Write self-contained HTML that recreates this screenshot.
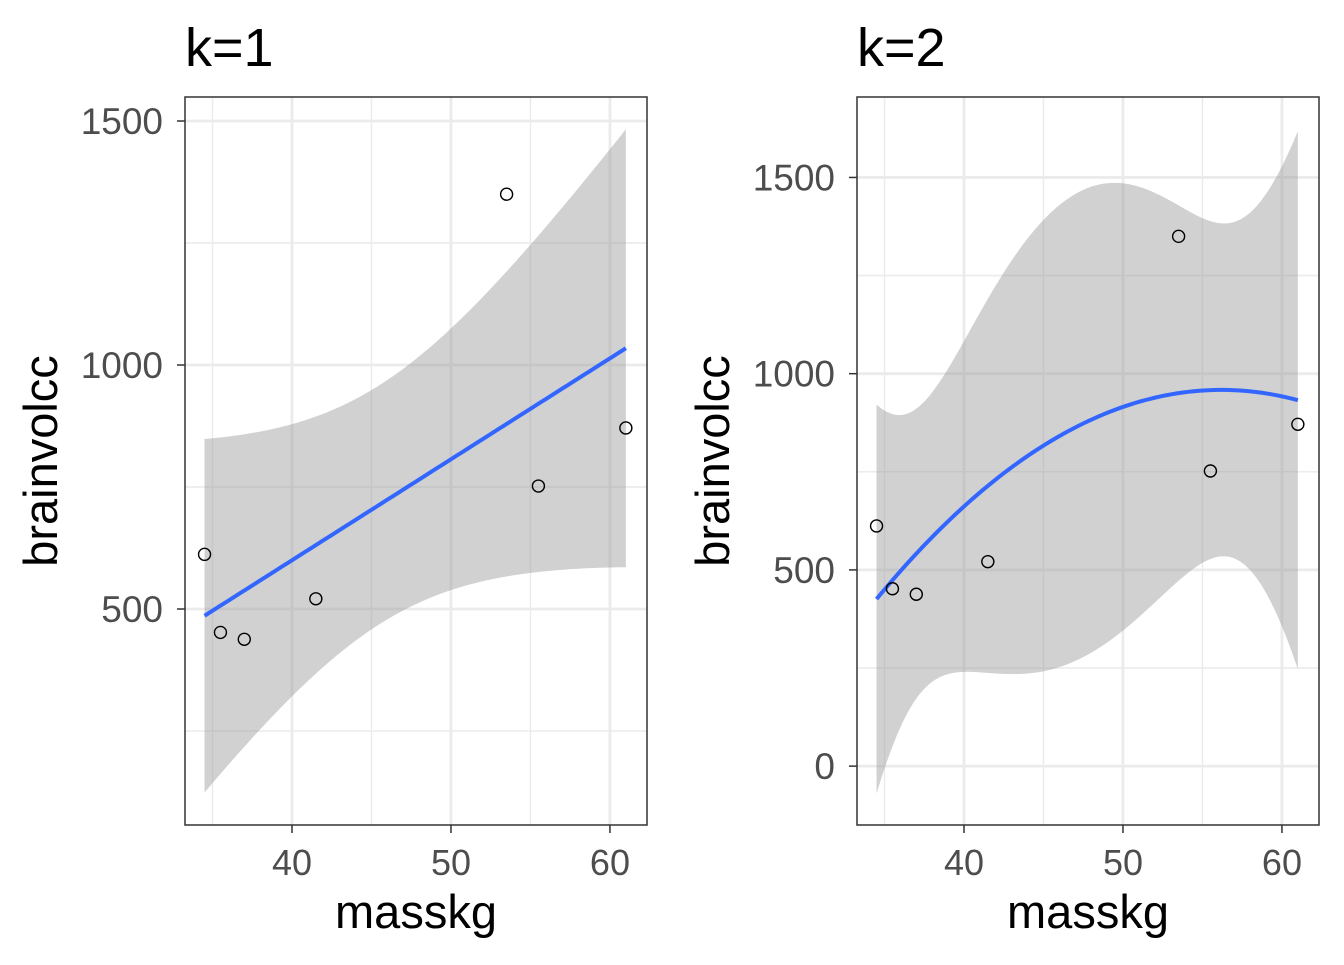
<!DOCTYPE html>
<html><head><meta charset="utf-8"><style>
body{margin:0;background:#fff;font-family:"Liberation Sans",Arial,sans-serif}
</style></head><body>
<svg id="c" width="1344" height="960" xmlns="http://www.w3.org/2000/svg"></svg>
<script>
const masskg=[37.0,35.5,34.5,41.5,55.5,61.0,53.5];
const brainvolcc=[438,452,612,521,752,871,1350];
const xTicks=[40,50,60];
const yTicksLeft=[500,1000,1500];
const yTicksRight=[0,500,1000,1500];
const panels=[
 {title:"k=1",deg:1,px0:185,px1:647,xd:[33.27,62.33],yd:[57.4,1549.2],yt:yTicksLeft,tcrit:2.5706},
 {title:"k=2",deg:2,px0:857,px1:1319,xd:[33.27,62.33],yd:[-150,1705],yt:yTicksRight,tcrit:2.7764}
];
const NS="http://www.w3.org/2000/svg";
const svg=document.getElementById('c');
function el(tag,attrs,parent){const e=document.createElementNS(NS,tag);for(const k in attrs)e.setAttribute(k,attrs[k]);(parent||svg).appendChild(e);return e;}
function inv(M){const n=M.length;const A=M.map((r,i)=>[...r,...r.map((_,j)=>i===j?1:0)]);
 for(let i=0;i<n;i++){let p=i;for(let r=i+1;r<n;r++)if(Math.abs(A[r][i])>Math.abs(A[p][i]))p=r;[A[i],A[p]]=[A[p],A[i]];
  const d=A[i][i];for(let j=0;j<2*n;j++)A[i][j]/=d;
  for(let r=0;r<n;r++)if(r!==i){const f=A[r][i];for(let j=0;j<2*n;j++)A[r][j]-=f*A[i][j];}}
 return A.map(r=>r.slice(n));}
function fit(deg){const mx=masskg.reduce((a,b)=>a+b)/masskg.length;
 const X=masskg.map(x=>{const r=[];for(let d=0;d<=deg;d++)r.push(Math.pow(x-mx,d));return r;});
 const p=deg+1;const XtX=[];for(let i=0;i<p;i++){XtX.push([]);for(let j=0;j<p;j++){let s=0;X.forEach(r=>s+=r[i]*r[j]);XtX[i].push(s);}}
 const XtXi=inv(XtX);const Xty=[];for(let i=0;i<p;i++){let s=0;X.forEach((r,k)=>s+=r[i]*brainvolcc[k]);Xty.push(s);}
 const b=XtXi.map(r=>r.reduce((s,v,j)=>s+v*Xty[j],0));
 let rss=0;X.forEach((r,k)=>{const yh=r.reduce((s,v,j)=>s+v*b[j],0);rss+=(brainvolcc[k]-yh)**2;});
 const s2=rss/(masskg.length-p);
 return x=>{const r=[];for(let d=0;d<=deg;d++)r.push(Math.pow(x-mx,d));
  const y=r.reduce((s,v,j)=>s+v*b[j],0);let v=0;for(let i=0;i<p;i++)for(let j=0;j<p;j++)v+=r[i]*XtXi[i][j]*r[j];
  return [y,Math.sqrt(v*s2)];};}
panels.forEach((P,pi)=>{
 const g=el('g',{});
 
 
 const top=97,bot=825;
 const sx=v=>P.px0+(v-P.xd[0])/(P.xd[1]-P.xd[0])*(P.px1-P.px0);
 const sy=v=>bot-(v-P.yd[0])/(P.yd[1]-P.yd[0])*(bot-top);
 el('rect',{x:P.px0,y:top,width:P.px1-P.px0,height:bot-top,fill:'#fff'},g);
 [35,45,55].forEach(v=>el('line',{x1:sx(v),x2:sx(v),y1:top,y2:bot,stroke:'#ebebeb','stroke-width':1.4},g));
 for(let i=0;i<P.yt.length;i++){[P.yt[i]-250,P.yt[i]+250].forEach(v=>{if(sy(v)>top&&sy(v)<bot)el('line',{x1:P.px0,x2:P.px1,y1:sy(v),y2:sy(v),stroke:'#ebebeb','stroke-width':1.4},g);});}
 xTicks.forEach(v=>el('line',{x1:sx(v),x2:sx(v),y1:top,y2:bot,stroke:'#ebebeb','stroke-width':2.8},g));
 P.yt.forEach(v=>el('line',{x1:P.px0,x2:P.px1,y1:sy(v),y2:sy(v),stroke:'#ebebeb','stroke-width':2.8},g));
 const f=fit(P.deg);const xs=[];const lo=Math.min(...masskg),hi=Math.max(...masskg);
 for(let i=0;i<=80;i++)xs.push(lo+(hi-lo)*i/80);
 const up=xs.map(x=>{const [y,s]=f(x);return sx(x)+','+sy(y+P.tcrit*s);});
 const dn=xs.slice().reverse().map(x=>{const [y,s]=f(x);return sx(x)+','+sy(y-P.tcrit*s);});
 const band=el('polygon',{points:up.concat(dn).join(' '),fill:'#999','fill-opacity':0.45},g);
 
 
 const line=el('polyline',{points:xs.map(x=>sx(x)+','+sy(f(x)[0])).join(' '),fill:'none',stroke:'#3366ff','stroke-width':4},g);
 
 
 masskg.forEach((x,i)=>{const c=el('circle',{cx:sx(x),cy:sy(brainvolcc[i]),r:6,fill:'none',stroke:'#000','stroke-width':1.4},g);
  
  });
 el('rect',{x:P.px0,y:top,width:P.px1-P.px0,height:bot-top,fill:'none',stroke:'#333','stroke-width':1.5},g);
 xTicks.forEach(v=>{el('line',{x1:sx(v),x2:sx(v),y1:bot,y2:bot+8,stroke:'#333','stroke-width':1.5},g);
  const t=el('text',{x:sx(v),y:bot+50,'text-anchor':'middle','font-size':36,fill:'#4d4d4d'},g);t.textContent=v;
  });
 P.yt.forEach(v=>{el('line',{x1:P.px0-8,x2:P.px0,y1:sy(v),y2:sy(v),stroke:'#333','stroke-width':1.5},g);
  const t=el('text',{x:P.px0-22,y:sy(v)+13,'text-anchor':'end','font-size':37,fill:'#4d4d4d'},g);t.textContent=v;
  });
 const xt=el('text',{x:(P.px0+P.px1)/2,y:928,'text-anchor':'middle','font-size':47,fill:'#000'},g);xt.textContent='masskg';
 
 const yx=P.px0-128;
 const yt=el('text',{x:yx,y:461,'text-anchor':'middle','font-size':47,fill:'#000',transform:`rotate(-90 ${yx} 461)`},g);yt.textContent='brainvolcc';
 
 const tt=el('text',{x:P.px0,y:66,'font-size':54,fill:'#000'},g);tt.textContent=P.title;
 
});
</script>
</body></html>
